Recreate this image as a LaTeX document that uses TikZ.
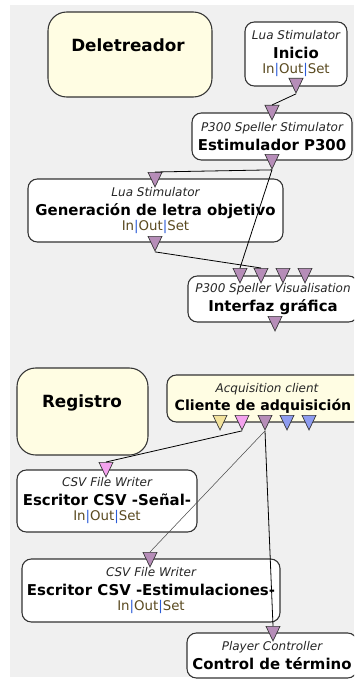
\documentclass[tikz,border=0pt]{standalone}
\usepackage{fontspec}
\setmainfont{DejaVu Sans}
\usepackage{xcolor}
\usepackage{tikz}
\usetikzlibrary{shapes.geometric}
\definecolor{canvas}{HTML}{F0F0F0}
\definecolor{boxline}{HTML}{333333}
\definecolor{groupfill}{HTML}{FFFDE3}
\definecolor{iotext}{HTML}{5A4A20}
\definecolor{iopipe}{HTML}{2A5BD7}
\definecolor{portstim}{HTML}{B68DB8}
\definecolor{portsig}{HTML}{F4A2EE}
\definecolor{portexp}{HTML}{F3E39C}
\definecolor{portchan}{HTML}{8E9CF0}
\newcommand{\boxkind}[1]{{\fontsize{9}{11}\selectfont\itshape\color{black!85}#1}}
\newcommand{\boxtitle}[1]{{\fontsize{11.2}{13}\selectfont\bfseries #1}}
\newcommand{\inoutset}{{\fontsize{10}{12}\selectfont\color{iotext}In\textcolor{iopipe}{|}Out\textcolor{iopipe}{|}Set}}
\tikzset{
x=0.75pt, y=-0.75pt, % one unit is one pixel of the screenshot
box/.style={draw=boxline, line width=0.8pt, rounded corners=7pt, fill=white, align=center, inner sep=0pt, font=\fontsize{10}{14}\selectfont}, % a box of the scenario
group/.style={box, rounded corners=14pt, fill=groupfill}, % a comment frame
grouptitle/.style={font=\fontsize{12.6}{15}\selectfont\bfseries},
port/.style={isosceles triangle, isosceles triangle stretches, shape border rotate=-90, draw=boxline, line width=0.5pt, minimum width=10.5pt, minimum height=11pt, inner sep=0pt, anchor=north, fill=portstim}, % in/out connectors
link/.style={line width=0.6pt, black},
}

\begin{document}
\begin{tikzpicture}
    \useasboundingbox (0,0) rectangle (354,681);
    \clip (0,0) rectangle (354,681);
    \fill[canvas] (10,5) rectangle (354,677);

    % comment frames
    \node[group, minimum width=123pt, minimum height=63.75pt] (delframe) at (130,54.5) {};
    \node[grouptitle] (deltitle) at (128,45) {Deletreador};
    \node[group, minimum width=98.25pt, minimum height=65.25pt] (regframe) at (82.5,411.5) {};
    \node[grouptitle] (regtitle) at (82,403) {Registro};

    % boxes
    \node[box, minimum width=76.5pt, minimum height=48pt] (inicio) at (296,54)
        {\boxkind{Lua Stimulator}\\\boxtitle{Inicio}\\[-2.5pt]\inoutset};
    \node[box, minimum width=120pt, minimum height=35.25pt] (estim) at (272,136.5)
        {\boxkind{P300 Speller Stimulator}\\\boxtitle{Estimulador P300}};
    \node[box, minimum width=191.25pt, minimum height=47.25pt] (genera) at (155.5,210.5)
        {\boxkind{Lua Stimulator}\\\boxtitle{Generación de letra objetivo}\\[-2.5pt]\inoutset};
    \node[box, minimum width=127.5pt, minimum height=34.5pt] (interfaz) at (273,299)
        {\boxkind{P300 Speller Visualisation}\\\boxtitle{Interfaz gráfica}};
    \node[box, fill=groupfill, minimum width=150pt, minimum height=35.25pt] (cliente) at (267,398.5)
        {\boxkind{Acquisition client}\\\hspace*{-6pt}{\fontsize{10.6}{13}\selectfont\bfseries Cliente de adquisición}};
    \node[box, minimum width=135pt, minimum height=46.5pt] (senal) at (107,501)
        {\boxkind{CSV File Writer}\\\boxtitle{Escritor CSV -Señal-}\\[-2.5pt]\inoutset};
    \node[box, minimum width=193.5pt, minimum height=47.25pt] (estimul) at (151,590.5)
        {\boxkind{CSV File Writer}\\\boxtitle{Escritor CSV -Estimulaciones-}\\[-2.5pt]\inoutset};
    \node[box, minimum width=127.5pt, minimum height=33.75pt] (control) at (272,655.5)
        {\boxkind{Player Controller}\\\boxtitle{Control de término}};

    % connectors
    \node[port] (inicio-out) at (296,78) {};
    \node[port] (estim-in) at (272,105) {};
    \node[port] (estim-out) at (272,154) {};
    \node[port] (genera-in) at (155,172) {};
    \node[port] (genera-out) at (155,236) {};
    \node[port] (interfaz-in1) at (240,268) {};
    \node[port] (interfaz-in2) at (261,268) {};
    \node[port] (interfaz-in3) at (283,268) {};
    \node[port] (interfaz-in4) at (305,268) {};
    \node[port] (interfaz-out) at (275,316) {};
    \node[port, fill=portexp] (cliente-out1) at (220,415) {};
    \node[port, fill=portsig] (cliente-out2) at (242,415) {};
    \node[port] (cliente-out3) at (265,415) {};
    \node[port, fill=portchan] (cliente-out4) at (287,415) {};
    \node[port, fill=portchan] (cliente-out5) at (309,415) {};
    \node[port, fill=portsig] (senal-in) at (106,462) {};
    \node[port] (estimul-in) at (150,552) {};
    \node[port] (control-in) at (273,626) {};

    \draw[link] (inicio-out.apex) -- (estim-in.north)
                (estim-out.apex) -- (genera-in.north)
                (estim-out.apex) -- (interfaz-in1.north)
                (genera-out.apex) -- (interfaz-in2.north)
                (cliente-out2.apex) -- (senal-in.north)
                (cliente-out3.apex) -- (control-in.north);
    \draw[link, line width=0.4pt, black!70] (cliente-out3.apex) -- (estimul-in.north);
\end{tikzpicture}
\end{document}
